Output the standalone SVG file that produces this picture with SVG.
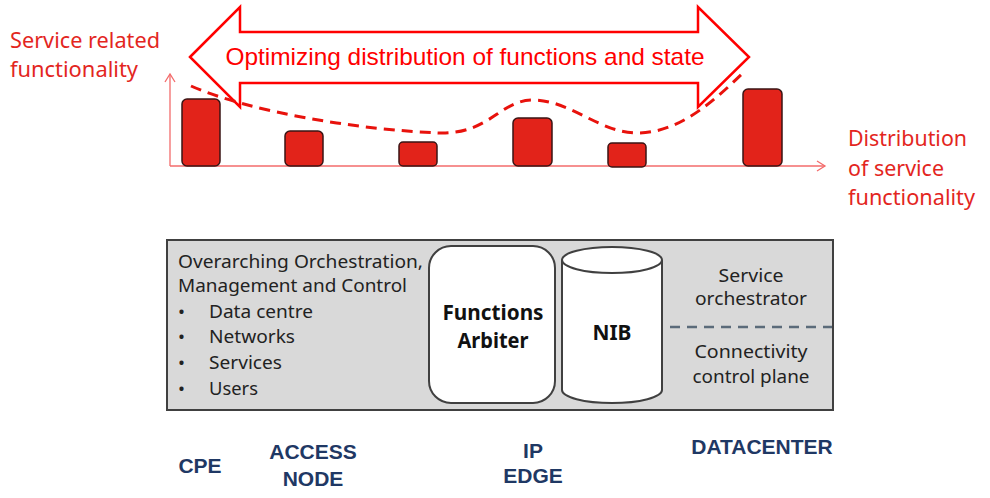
<svg xmlns="http://www.w3.org/2000/svg" width="990" height="498" viewBox="0 0 990 498">
<defs>
<style>
.red{font-family:"Noto Sans","Open Sans",sans-serif;font-size:22px;fill:#e3261e}
.box{font-family:"Noto Sans","Open Sans",sans-serif;font-size:18.5px;fill:#222}
.bold{font-family:"Noto Sans","Open Sans",sans-serif;font-size:20.5px;font-weight:bold;fill:#111;text-anchor:middle}
.loc{font-family:"Liberation Sans",Arial,sans-serif;font-size:21px;font-weight:bold;fill:#1f3864;text-anchor:middle}
.bar{fill:#e2231a;stroke:#3a1515;stroke-width:1.5}
.axis{stroke:#f36b6b;stroke-width:1.3;fill:none}
</style>
</defs>
<rect width="990" height="498" fill="#fff"/>

<g id="axes">
<line class="axis" x1="170" y1="166" x2="170" y2="74"/>
<polyline class="axis" points="165,82 170,74 175,82"/>
<line class="axis" x1="170" y1="166" x2="825" y2="166"/>
<polyline class="axis" points="817,161 825,166 817,171"/>
</g>

<g id="double-arrow">
<path d="M190,57 L240,7 L240,32 L698,32 L698,7 L749,57 L698,107 L698,83 L240,83 L240,107 Z" fill="#fff" stroke="#ff0000" stroke-width="2.5" stroke-linejoin="miter"/>
<text x="465" y="65" text-anchor="middle" font-family="Liberation Sans,Arial,sans-serif" font-size="24" fill="#ff0000" textLength="479" lengthAdjust="spacingAndGlyphs">Optimizing distribution of functions and state</text>
</g>

<g id="bars">
<rect class="bar" x="182" y="99" width="38" height="67" rx="5"/>
<rect class="bar" x="285" y="131" width="38" height="35" rx="5"/>
<rect class="bar" x="399" y="142" width="38" height="24" rx="4"/>
<rect class="bar" x="513" y="118" width="39" height="48" rx="5"/>
<rect class="bar" x="608" y="143" width="38" height="24" rx="4"/>
<rect class="bar" x="743" y="89" width="39" height="77" rx="5"/>
</g>

<g id="connectors">
<path d="M191,86 C250,112 360,130 440,133 C490,134 500,100 533,100 C570,100 600,133 637,133 C680,133 715,100 745,71" fill="none" stroke="#e8120c" stroke-width="3" stroke-dasharray="11,7"/>
</g>

<g id="y-label">
<text class="red" x="10" y="48" textLength="150" lengthAdjust="spacingAndGlyphs">Service related</text>
<text class="red" x="10" y="77" textLength="128" lengthAdjust="spacingAndGlyphs">functionality</text>
</g>

<g id="x-label">
<text class="red" x="848" y="146" textLength="119" lengthAdjust="spacingAndGlyphs">Distribution</text>
<text class="red" x="848" y="176" textLength="96" lengthAdjust="spacingAndGlyphs">of service</text>
<text class="red" x="848" y="205" textLength="127" lengthAdjust="spacingAndGlyphs">functionality</text>
</g>

<g id="control-box">
<rect x="167" y="240" width="666" height="170" fill="#d9d9d9" stroke="#404040" stroke-width="2"/>
<text class="box" x="178" y="268" textLength="245" lengthAdjust="spacingAndGlyphs">Overarching Orchestration,</text>
<text class="box" x="178" y="292" textLength="229" lengthAdjust="spacingAndGlyphs">Management and Control</text>
<text class="box" x="178" y="318">•</text>
<text class="box" x="209" y="318" textLength="104" lengthAdjust="spacingAndGlyphs">Data centre</text>
<text class="box" x="178" y="343">•</text>
<text class="box" x="209" y="343" textLength="86" lengthAdjust="spacingAndGlyphs">Networks</text>
<text class="box" x="178" y="369">•</text>
<text class="box" x="209" y="369" textLength="73" lengthAdjust="spacingAndGlyphs">Services</text>
<text class="box" x="178" y="395">•</text>
<text class="box" x="209" y="395" textLength="49" lengthAdjust="spacingAndGlyphs">Users</text>
</g>

<g id="functions-arbiter">
<rect x="429" y="246" width="126" height="157" rx="22" fill="#fff" stroke="#404040" stroke-width="2"/>
<text class="bold" x="493" y="320" textLength="101" lengthAdjust="spacingAndGlyphs">Functions</text>
<text class="bold" x="493" y="348" textLength="71" lengthAdjust="spacingAndGlyphs">Arbiter</text>
</g>

<g id="nib">
<path d="M562,260 L562,390 A50,13 0 0 0 662,390 L662,260" fill="#fff" stroke="#404040" stroke-width="2"/>
<ellipse cx="612" cy="260" rx="50" ry="13" fill="#fff" stroke="#404040" stroke-width="2"/>
<text class="bold" x="612" y="340" textLength="39" lengthAdjust="spacingAndGlyphs">NIB</text>
</g>

<g id="service-orchestrator">
<text class="box" x="751" y="282" text-anchor="middle" textLength="65" lengthAdjust="spacingAndGlyphs">Service</text>
<text class="box" x="751" y="305" text-anchor="middle" textLength="112" lengthAdjust="spacingAndGlyphs">orchestrator</text>
<line x1="670" y1="327" x2="832" y2="327" stroke="#5b6b7a" stroke-width="2.5" stroke-dasharray="10,7"/>
<text class="box" x="751" y="358" text-anchor="middle" textLength="113" lengthAdjust="spacingAndGlyphs">Connectivity</text>
<text class="box" x="751" y="383" text-anchor="middle" textLength="117" lengthAdjust="spacingAndGlyphs">control plane</text>
</g>

<g id="locations">
<text class="loc" x="200" y="473">CPE</text>
<text class="loc" x="313" y="459">ACCESS</text>
<text class="loc" x="313" y="486">NODE</text>
<text class="loc" x="533" y="458">IP</text>
<text class="loc" x="533" y="483">EDGE</text>
<text class="loc" x="762" y="454">DATACENTER</text>
</g>
</svg>
